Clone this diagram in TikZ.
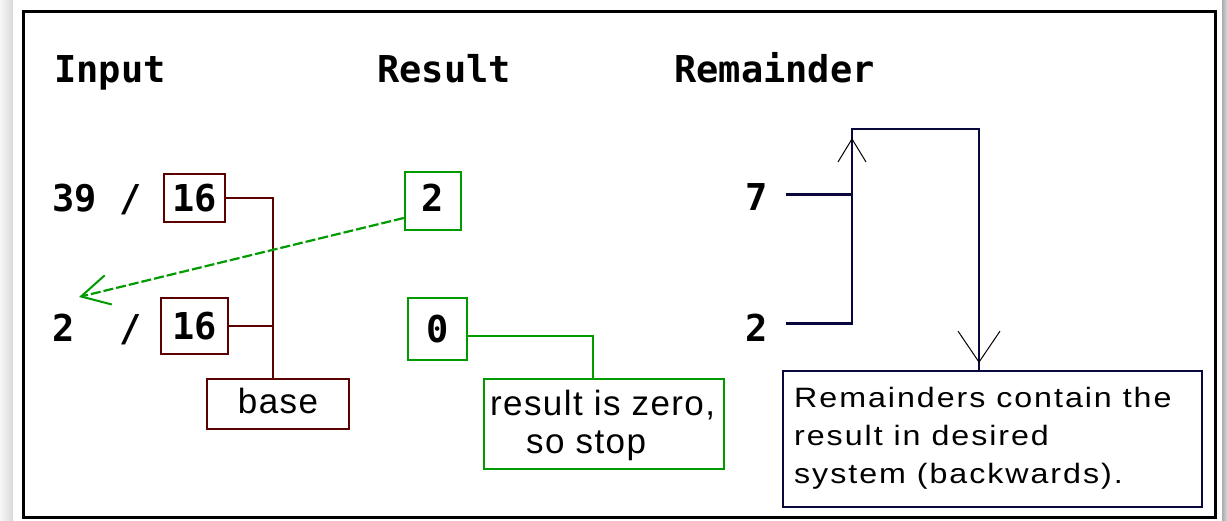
\documentclass[tikz,border=0pt]{standalone}
\usepackage{fontspec}
\setmainfont{Liberation Sans}
\newfontfamily\monob{DejaVu Sans Mono}
\newfontfamily\sansA{Liberation Sans}[LetterSpace=4]
\newfontfamily\sansB{Liberation Sans}[FakeStretch=1.15,LetterSpace=7]
\usetikzlibrary{arrows.meta,calc}
\definecolor{dred}{RGB}{90,0,0}
\definecolor{dgreen}{RGB}{0,155,0}
\definecolor{dnavy}{RGB}{8,8,60}
\begin{document}
\begin{tikzpicture}[x=1pt,y=-1pt,
  hdr/.style={font=\monob\bfseries\fontsize{37}{40}\selectfont, inner sep=0pt, anchor=base west},
  redbox/.style={draw=dred, line width=2.5pt, inner sep=0pt, font=\monob\bfseries\fontsize{37}{40}\selectfont},
  gbox/.style={draw=dgreen, line width=2.5pt, inner sep=0pt, font=\monob\bfseries\fontsize{37}{40}\selectfont},
  nbox/.style={draw=dnavy, line width=2.5pt, inner sep=0pt},
  txtA/.style={font=\sansA\fontsize{35}{38}\selectfont, inner sep=0pt, anchor=base west},
  txtB/.style={font=\sansB\fontsize{28}{38}\selectfont, inner sep=0pt, anchor=base west},
  redline/.style={draw=dred, line width=2.2pt},
  gline/.style={draw=dgreen, line width=2.2pt},
  nline/.style={draw=dnavy, line width=2.7pt}]
\useasboundingbox (0,0) rectangle (1228,520);
\shade[left color=gray!6, right color=gray!30] (0,0) rectangle (13,520);
\shade[left color=gray!65, right color=gray!25] (1222,0) rectangle (1228,520);
\node[draw, line width=3pt, minimum width=1192pt, minimum height=506pt, inner sep=0pt] (frame) at (619,264) {};

% headers
\node[hdr] (hInput) at (54,82) {Input};
\node[hdr] (hResult) at (377,82) {Result};
\node[hdr] (hRem) at (674,82) {Remainder};

% input column
\node[hdr] (in1) at (52,211) {39 /};
\node[hdr] (in2) at (52,341) {2~~/};
\node[redbox, minimum width=61pt, minimum height=48pt] (d1) at (194.5,198) {16};
\node[redbox, minimum width=67pt, minimum height=56pt] (d2) at (194.5,326) {16};
\node[redbox, font=\sansA\fontsize{35}{38}\selectfont, text depth=7pt, minimum width=142pt, minimum height=50pt] (base) at (278,404) {base};

% result column
\node[gbox, text depth=6pt, minimum width=56pt, minimum height=58pt] (g2) at (433,201) {2};
\node[gbox, minimum width=59pt, minimum height=62pt] (g0) at (437.5,329) {0};
\node[gbox, minimum width=240pt, minimum height=90pt] (res) at (604,424) {};
\node[txtA] (resT1) at (490,415) {result is zero,};
\node[txtA] (resT2) at (526,453) {so stop};

% remainder column
\node[hdr] (r7) at (745,210) {7};
\node[hdr] (r2) at (745,341) {2};
\node[nbox, minimum width=419pt, minimum height=136pt] (note) at (992.5,439) {};
\node[txtB] (noteT1) at (794,407) {Remainders contain the};
\node[txtB] (noteT2) at (794,445) {result in desired};
\node[txtB] (noteT3) at (794,483) {system (backwards).};

% connectors
\coordinate (rj) at (273,198);
\draw[redline] (d1.east) -- (rj) -- (rj |- base.north);
\draw[redline] (d2.east) -- (d2.east -| rj);

\coordinate (gtip) at (79,297);
\draw[gline, dash pattern=on 10pt off 3pt, -{Straight Barb[length=28pt,width=30pt,line width=2pt]}] ([yshift=-17pt]g2.west) -- (gtip);
\draw[gline] ([yshift=-7pt]g0.east) -| ([xshift=-11pt]res.north);

\coordinate (t1) at (852,129);
\coordinate (t2) at (979,129);
\draw[nline] ([xshift=18pt,yshift=2pt]r7.east) -- ([yshift=2pt]r7.east -| t1);
\draw[nline] ([xshift=18pt,yshift=4pt]r2.east) -| (t1) -- (t2) -- (t2 |- note.north);
\draw[nline, -{Straight Barb[length=23pt,width=28pt,line width=1pt,color=black]}] ([yshift=-40pt]t1) -- ([yshift=-9pt]t1);
\draw[nline, -{Straight Barb[length=31pt,width=42pt,line width=1pt,color=black]}] ([yshift=-190pt]t2) -- ([yshift=-234pt]t2);
\end{tikzpicture}
\end{document}
